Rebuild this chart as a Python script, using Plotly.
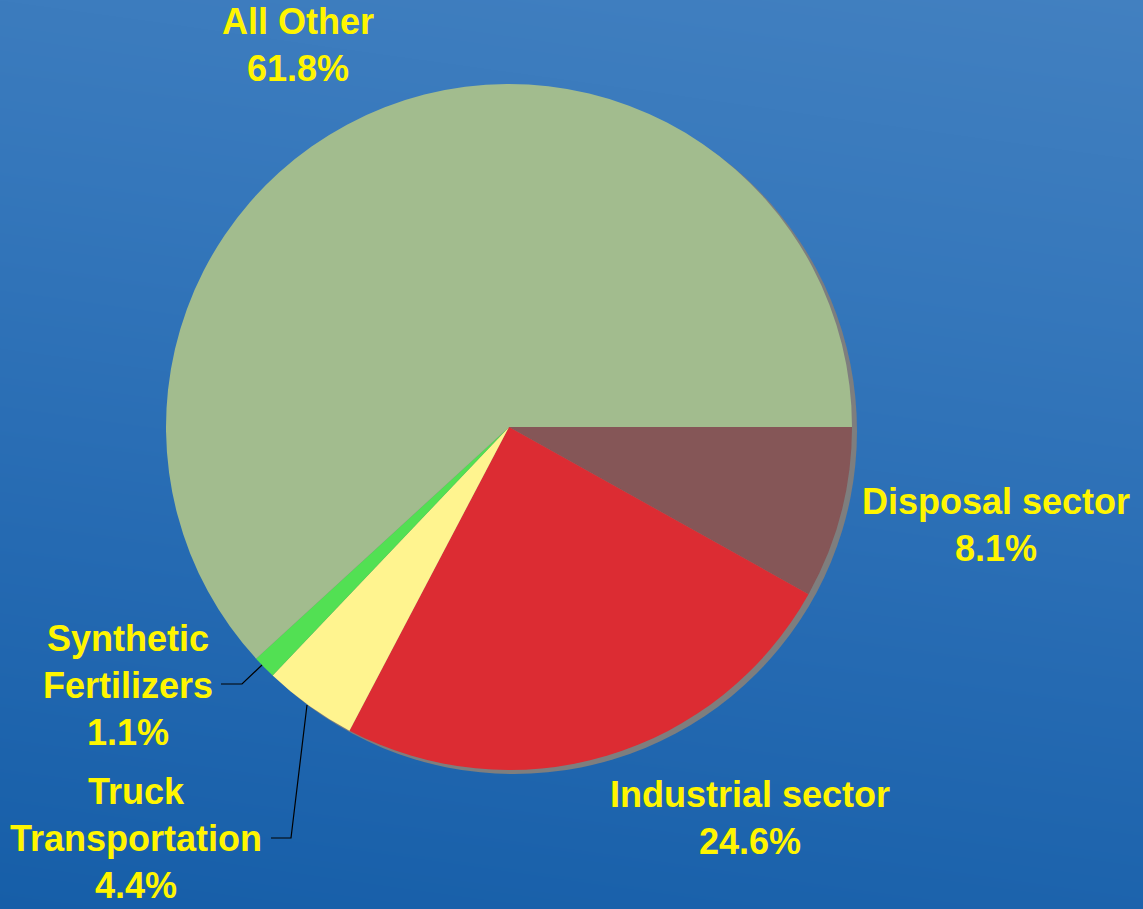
import numpy as np
import plotly.graph_objects as go

W, H = 1143, 909

# Shares by source, listed clockwise from 3 o'clock
sectors = ["Disposal sector", "Industrial sector", "Truck Transportation",
           "Synthetic Fertilizers", "All Other"]
shares = [8.1, 24.6, 4.4, 1.1, 61.8]
slice_colors = ["#855657", "#DC2C33", "#FFF48F", "#52E053", "#A2BC8E"]

# Label text and where each label block is centred (pixels)
label_text = ["Disposal sector", "Industrial sector", "Truck<br>Transportation",
              "Synthetic<br>Fertilizers", "All Other"]
label_pos = [(996, 525), (750, 818), (136, 838), (128, 685), (298, 45)]

# Pie geometry in pixels
cx, cy, r = 509, 427, 343
shadow_dx, shadow_dy = 5, 4


def px(x):
    return x / W


def py(y):
    return 1 - y / H


fig = go.Figure()

# Blue backdrop: vertical gradient, a touch lighter towards the right
gx = np.linspace(0, W, 40)
gy = np.linspace(0, H, 40)
GX, GY = np.meshgrid(gx, gy)
shade = 0.85 * GY / H - 0.15 * GX / W
fig.add_trace(go.Heatmap(
    x=gx, y=gy, z=shade, zsmooth="best", showscale=False, hoverinfo="skip",
    colorscale=[[0, "#4280C0"], [0.3, "#3577BB"], [0.65, "#256AB2"], [1, "#165EA8"]],
))

# Grey drop shadow behind the pie
fig.add_trace(go.Pie(
    values=[1], marker=dict(colors=["#7E7E7E"], line=dict(width=0)),
    textinfo="none", hoverinfo="skip", showlegend=False, sort=False,
    domain=dict(x=[px(cx - r + shadow_dx), px(cx + r + shadow_dx)],
                y=[py(cy + r + shadow_dy), py(cy - r + shadow_dy)]),
))

fig.add_trace(go.Pie(
    labels=sectors, values=shares, sort=False, direction="clockwise", rotation=90,
    marker=dict(colors=slice_colors, line=dict(width=0)),
    textinfo="none", showlegend=False,
    domain=dict(x=[px(cx - r), px(cx + r)], y=[py(cy + r), py(cy - r)]),
))

for name, val, (lx, ly) in zip(label_text, shares, label_pos):
    fig.add_annotation(
        x=px(lx), y=py(ly), xref="paper", yref="paper",
        text=f"{name}<br>{val:.1f}%", showarrow=False,
        xanchor="center", yanchor="middle", align="center",
        font=dict(family="Liberation Sans, Arial", size=36, color="#FFF500", weight="bold"),
    )

# Leader lines for the two small slices
leaders = [
    [(221, 684), (242, 684), (262, 665)],
    [(271, 838), (291, 838), (307, 705)],
]
for pts in leaders:
    path = "M " + " L ".join(f"{px(x):.5f},{py(y):.5f}" for x, y in pts)
    fig.add_shape(type="path", path=path, xref="paper", yref="paper",
                  line=dict(color="black", width=1.2), layer="above")

fig.update_layout(
    width=W, height=H, margin=dict(l=0, r=0, t=0, b=0),
    paper_bgcolor="#2A6DB5", plot_bgcolor="#2A6DB5",
    xaxis=dict(range=[0, W], visible=False, domain=[0, 1]),
    yaxis=dict(range=[H, 0], visible=False, domain=[0, 1]),
)

fig.write_html("out.html")
